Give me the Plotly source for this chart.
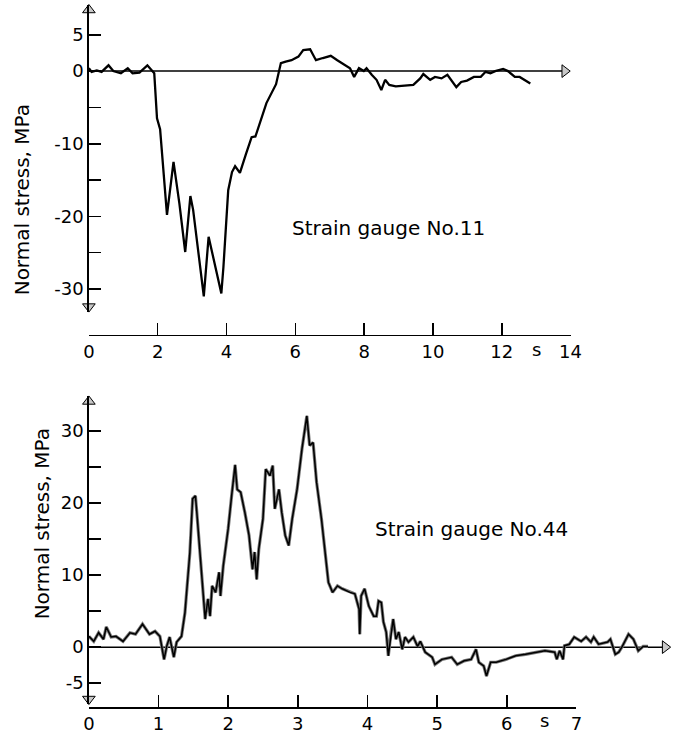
import plotly.graph_objects as go

W, H = 682, 734

# ---- Strain gauge No.11 (top) ----
t11 = [0.00, 0.08, 0.23, 0.37, 0.57, 0.71, 0.93, 1.13, 1.27, 1.47, 1.70, 1.84, 1.90, 1.98,
       2.07, 2.27, 2.46, 2.63, 2.80, 2.95, 3.03, 3.34, 3.48, 3.85, 3.91, 4.05, 4.16, 4.25,
       4.39, 4.56, 4.73, 4.84, 5.16, 5.44, 5.58, 5.72, 5.89, 6.09, 6.23, 6.43, 6.60, 6.80,
       7.03, 7.22, 7.37, 7.59, 7.71, 7.85, 7.99, 8.07, 8.22, 8.36, 8.50, 8.61, 8.73, 8.92,
       9.43, 9.63, 9.72, 9.92, 10.06, 10.25, 10.42, 10.68, 10.82, 10.99, 11.19, 11.39,
       11.53, 11.67, 11.81, 12.04, 12.18, 12.38, 12.52, 12.66, 12.83]
s11 = [0.4, -0.1, 0.1, -0.1, 0.8, 0.0, -0.3, 0.4, -0.3, -0.2, 0.8, 0.1, -0.3, -6.5,
       -8.0, -19.8, -12.5, -18.2, -24.9, -17.2, -19.1, -31.0, -22.8, -30.6, -27.0, -16.4, -13.9, -13.1,
       -14.0, -11.5, -9.1, -9.0, -4.4, -1.8, 1.1, 1.3, 1.5, 2.0, 2.9, 3.0, 1.5, 1.8,
       2.1, 1.5, 1.1, 0.4, -0.8, 0.4, 0.0, 0.4, -0.5, -1.2, -2.6, -1.2, -1.9, -2.1,
       -1.9, -1.0, -0.4, -1.2, -0.8, -1.0, -0.5, -2.2, -1.5, -1.3, -0.8, -0.8,
       -0.1, -0.3, 0.0, 0.3, 0.0, -0.8, -0.8, -1.2, -1.7]

# ---- Strain gauge No.44 (bottom) ----
t44 = [0.00, 0.07, 0.14, 0.21, 0.25, 0.32, 0.39, 0.49, 0.59, 0.67, 0.77, 0.87, 0.95, 1.02,
       1.08, 1.12, 1.16, 1.22, 1.26, 1.33, 1.38, 1.45, 1.49, 1.53, 1.55, 1.57, 1.61, 1.67,
       1.71, 1.74, 1.77, 1.82, 1.87, 1.89, 1.93, 2.00, 2.05, 2.10, 2.13, 2.18, 2.24, 2.30,
       2.35, 2.38, 2.41, 2.44, 2.50, 2.54, 2.60, 2.64, 2.67, 2.73, 2.77, 2.82, 2.87, 2.92,
       2.99, 3.06, 3.13, 3.17, 3.22, 3.27, 3.34, 3.39, 3.44, 3.50, 3.57, 3.64, 3.75, 3.82,
       3.88, 3.89, 3.91, 3.96, 4.02, 4.09, 4.13, 4.16, 4.20, 4.23, 4.27, 4.30, 4.34, 4.37,
       4.41, 4.45, 4.50, 4.54, 4.59, 4.66, 4.72, 4.76, 4.83, 4.93, 4.97, 5.07, 5.21, 5.29,
       5.39, 5.49, 5.56, 5.60, 5.67, 5.71, 5.77, 5.85, 5.99, 6.13, 6.27, 6.41, 6.55, 6.69,
       6.72, 6.76, 6.81, 6.83, 6.90, 6.97, 7.07, 7.14, 7.21, 7.25, 7.32, 7.45, 7.49, 7.56,
       7.61, 7.66, 7.75, 7.82, 7.89, 7.96, 8.03]
s44 = [1.5, 0.8, 2.0, 1.1, 2.8, 1.4, 1.5, 0.8, 2.0, 1.8, 3.2, 1.8, 2.2, 1.5,
       -1.7, 0.2, 1.4, -1.4, 0.7, 1.5, 4.8, 13.1, 20.6, 21.0, 18.7, 16.2, 11.3, 3.9,
       6.7, 4.3, 8.5, 7.6, 10.4, 7.1, 11.3, 16.4, 21.0, 25.3, 21.9, 21.5, 18.7, 15.5,
       10.8, 13.2, 9.4, 13.6, 17.8, 24.7, 23.8, 25.2, 19.2, 21.9, 18.7, 15.5, 14.1, 17.8,
       21.9, 27.5, 32.1, 28.0, 28.4, 22.9, 17.8, 13.6, 9.0, 7.6, 8.5, 8.1, 7.6, 7.4,
       5.3, 1.8, 7.1, 8.1, 5.7, 4.3, 4.3, 6.4, 6.2, 3.5, 2.1, -1.2, 2.1, 3.9,
       1.1, 2.1, -0.3, 1.4, 0.7, 1.4, 0.1, 0.8, -0.7, -1.4, -2.4, -1.7, -1.4, -2.4,
       -1.9, -1.7, -0.3, -2.1, -2.6, -4.0, -2.1, -2.1, -1.7, -1.2, -1.0, -0.7, -0.5, -0.7,
       -1.7, -0.5, -1.7, 0.2, 0.4, 1.4, 0.8, 1.4, 0.7, 1.4, 0.4, 0.7, 1.1, -1.0,
       -0.7, 0.1, 1.8, 1.1, -0.5, 0.1, 0.1]

# ---- ticks / labels ----
top_xticks = [0, 2, 4, 6, 8, 10, 12, 14]
top_yticks = [5, 0, -5, -10, -15, -20, -25, -30]
top_ytext = ["5", "0", "", "-10", "", "-20", "", "-30"]
bot_xticks = [0, 1, 2, 3, 4, 5, 6, 7]
bot_yticks = [30, 25, 20, 15, 10, 5, 0, -5]
bot_ytext = ["30", "", "20", "", "10", "", "0", "-5"]
ylabel = "Normal stress, MPa"
label11 = "Strain gauge No.11"
label44 = "Strain gauge No.44"
unit = "s"

top_xrange = [0, 14]
top_yrange = [-33.1, 9.1]
bot_xrange = [0, 8.36]
bot_yrange = [-7.9, 34.8]

FONT = "DejaVu Sans"


def fx(px):
    return px / W


def fy(py):
    return 1 - py / H


fig = go.Figure()

fig.add_trace(go.Scatter(x=t11, y=s11, mode="lines", xaxis="x", yaxis="y",
                         line=dict(color="black", width=2.3), showlegend=False))
fig.add_trace(go.Scatter(x=t44, y=s44, mode="lines", xaxis="x2", yaxis="y2",
                         line=dict(color="#777777", width=3.2), showlegend=False))
fig.add_trace(go.Scatter(x=t44, y=s44, mode="lines", xaxis="x2", yaxis="y2",
                         line=dict(color="black", width=1.5), showlegend=False))
# carrier trace for the separate bottom time axis
fig.add_trace(go.Scatter(x=[0, 7], y=[None, None], mode="lines", xaxis="x3", yaxis="y2",
                         showlegend=False, hoverinfo="skip"))

# axis arrowheads
arr_style = dict(color="#c8c8c8", size=11, line=dict(color="black", width=1))
ty_off = 5 / (307 / (top_yrange[1] - top_yrange[0]))
tx_off = 6 / (494 / (top_xrange[1] - top_xrange[0]))
fig.add_trace(go.Scatter(
    x=[0, 0, top_xrange[1] - tx_off], y=[top_yrange[1] - ty_off, top_yrange[0] + ty_off, 0],
    mode="markers", xaxis="x", yaxis="y", cliponaxis=False, showlegend=False,
    marker=dict(symbol=["triangle-up", "triangle-down", "triangle-right"], **arr_style)))
by_off = 5 / (308 / (bot_yrange[1] - bot_yrange[0]))
bx_off = 6 / (597 / (bot_xrange[1] - bot_xrange[0]))
fig.add_trace(go.Scatter(
    x=[0, 0, bot_xrange[1] - bx_off], y=[bot_yrange[1] - by_off, bot_yrange[0] + by_off, 0],
    mode="markers", xaxis="x2", yaxis="y2", cliponaxis=False, showlegend=False,
    marker=dict(symbol=["triangle-up", "triangle-down", "triangle-right"], **arr_style)))

tickfont = dict(family=FONT, size=18, color="black")
axis_common = dict(showline=True, linecolor="black", linewidth=1.5, ticks="inside",
                   ticklen=12, tickwidth=1.5, tickcolor="black", showgrid=False,
                   zeroline=False, tickfont=tickfont, fixedrange=True)

fig.update_layout(
    width=W, height=H, autosize=False,
    margin=dict(l=0, r=0, t=0, b=0),
    paper_bgcolor="white", plot_bgcolor="rgba(0,0,0,0)",
    hovermode=False,
    xaxis=dict(domain=[fx(85), fx(579)], range=top_xrange, anchor="free", position=fy(335),
               tickmode="array", tickvals=top_xticks, **axis_common),
    yaxis=dict(domain=[fy(312), fy(5)], range=top_yrange, anchor="x",
               tickmode="array", tickvals=top_yticks, ticktext=top_ytext, **axis_common),
    xaxis2=dict(domain=[fx(85), fx(682)], range=bot_xrange, anchor="y2", visible=False,
                showgrid=False, zeroline=False),
    xaxis3=dict(domain=[fx(85), fx(585)], range=[0, 7], anchor="free", position=fy(708),
                tickmode="array", tickvals=bot_xticks, **axis_common),
    yaxis2=dict(domain=[fy(705), fy(397)], range=bot_yrange, anchor="x2",
                tickmode="array", tickvals=bot_yticks, ticktext=bot_ytext, **axis_common),
    shapes=[
        dict(type="line", xref="x", yref="y", x0=0, x1=top_xrange[1] - tx_off, y0=0, y1=0,
             line=dict(color="black", width=1.5), layer="below"),
        dict(type="line", xref="x2", yref="y2", x0=0, x1=bot_xrange[1] - bx_off, y0=0, y1=0,
             line=dict(color="black", width=1.5), layer="below"),
    ],
)

ann_font = dict(family=FONT, size=20, color="black")
anns = [
    (label11, fx(392), fy(228), "paper", 0, ann_font),
    (label44, fx(477), fy(530), "paper", 0, ann_font),
    (ylabel, fx(16), fy(200), "paper", -90, ann_font),
    (ylabel, fx(37), fy(525), "paper", -90, ann_font),
    (unit, 13.0, fy(350), "x", 0, tickfont),
    (unit, 6.54, fy(721), "x3", 0, tickfont),
]
for text, x, y, xref, ang, f in anns:
    fig.add_annotation(text=text, x=x, y=y, xref=xref, yref="paper", textangle=ang,
                       xanchor="center", yanchor="middle", showarrow=False, font=f)

fig.write_html("out.html", config={"displayModeBar": False, "staticPlot": True},
               post_script="document.body.style.margin='0';document.body.style.overflow='hidden';")
